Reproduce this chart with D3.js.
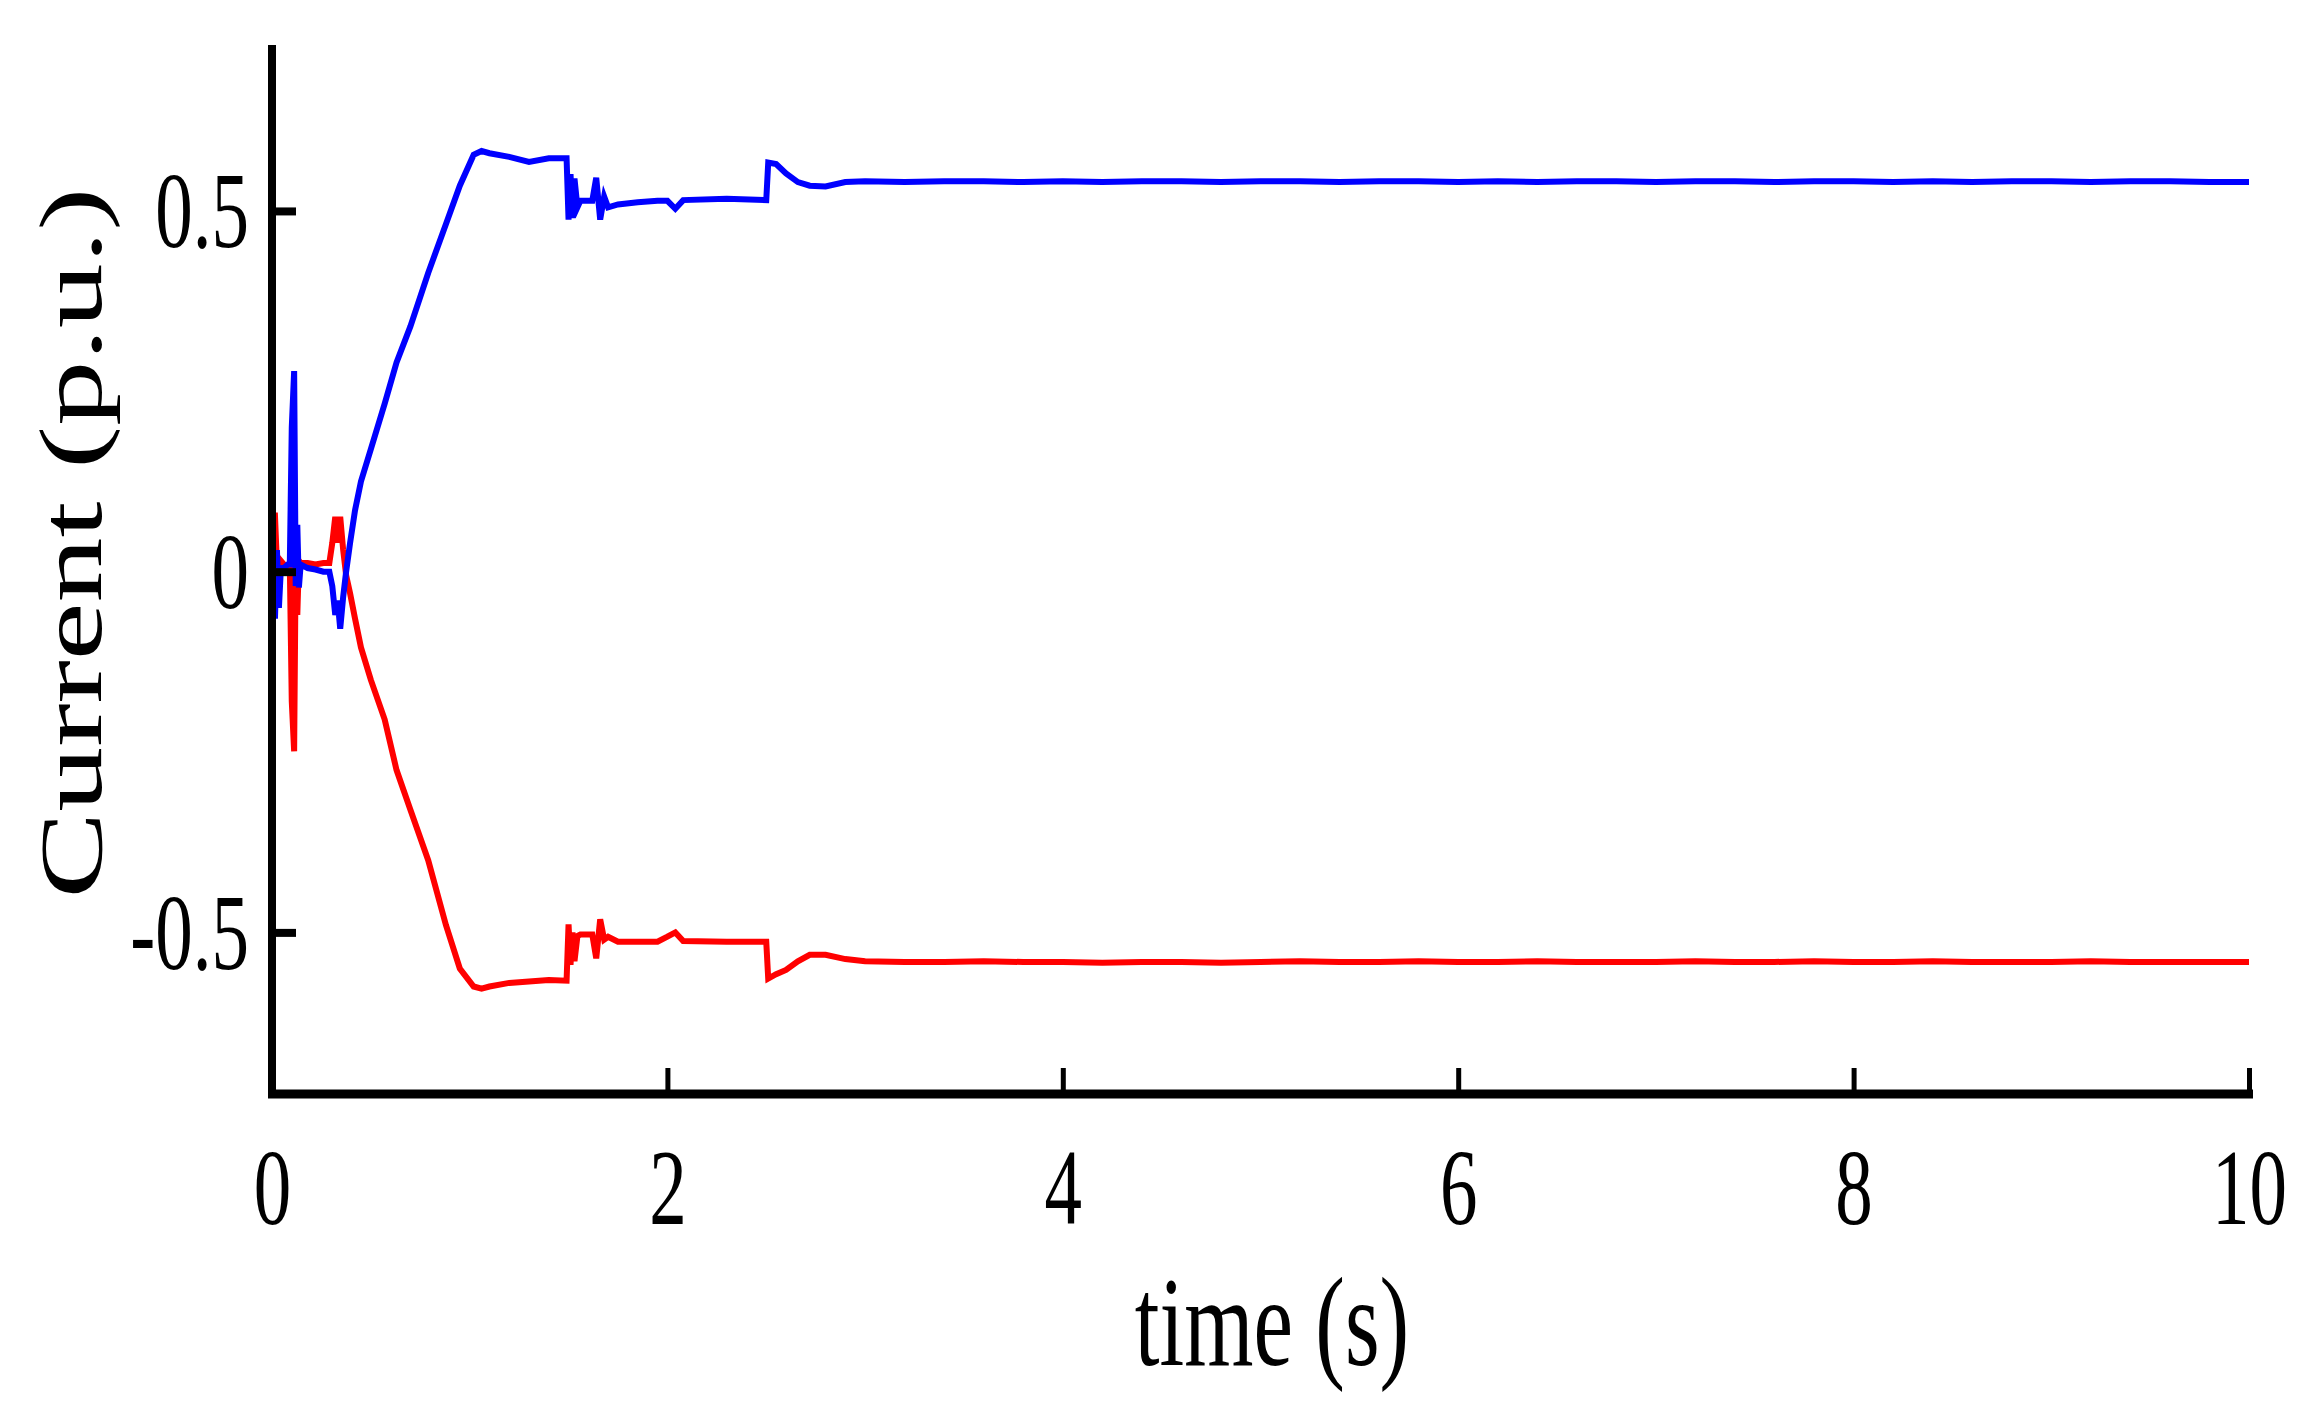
<!DOCTYPE html>
<html>
<head>
<meta charset="utf-8">
<script src="https://cdn.jsdelivr.net/npm/d3@7"></script>
<style>
  html, body { margin: 0; padding: 0; background: #fff; }
  svg { display: block; }
</style>
</head>
<body>
<svg id="chart" width="2316" height="1416"></svg>
<script>
// ---------------- data ----------------
const timeS = [
  0.000, 0.005, 0.015, 0.025, 0.035, 0.045, 0.060, 0.080, 0.090, 0.100,
  0.112, 0.120, 0.128, 0.136, 0.145, 0.180, 0.220, 0.260, 0.290, 0.305,
  0.320, 0.332, 0.345, 0.360, 0.375, 0.395, 0.420, 0.450, 0.500, 0.570,
  0.630, 0.700, 0.790, 0.880, 0.950, 1.020, 1.060, 1.100, 1.200, 1.300,
  1.400, 1.490, 1.500, 1.510, 1.520, 1.530, 1.545, 1.560, 1.620, 1.640,
  1.660, 1.680, 1.700, 1.750, 1.850, 1.950, 2.000, 2.040, 2.080, 2.300,
  2.500, 2.510, 2.550, 2.600, 2.660, 2.720, 2.800, 2.900,
  3.0, 3.2, 3.4, 3.6, 3.8, 4.0, 4.2, 4.4, 4.6, 4.8,
  5.0, 5.2, 5.4, 5.6, 5.8, 6.0, 6.2, 6.4, 6.6, 6.8,
  7.0, 7.2, 7.4, 7.6, 7.8, 8.0, 8.2, 8.4, 8.6, 8.8,
  9.0, 9.2, 9.4, 9.6, 9.8, 10.0
];
const blueCurrent = [
  0.000, 0.035, -0.065, 0.030, -0.050, 0.005, 0.005, 0.010, 0.010, 0.200,
  0.278, -0.020, 0.065, -0.022, 0.010, 0.005, 0.003, 0.000, 0.000, -0.020,
  -0.060, -0.040, -0.079, -0.035, 0.000, 0.040, 0.085, 0.125, 0.170, 0.233,
  0.290, 0.340, 0.414, 0.482, 0.535, 0.578, 0.583, 0.580, 0.575, 0.568,
  0.573, 0.573, 0.488, 0.551, 0.490, 0.545, 0.505, 0.514, 0.514, 0.546,
  0.488, 0.520, 0.505, 0.509, 0.512, 0.514, 0.514, 0.503, 0.515, 0.517,
  0.515, 0.567, 0.565, 0.552, 0.540, 0.535, 0.534, 0.540,
  0.541, 0.540, 0.541, 0.541, 0.540, 0.541, 0.540, 0.541, 0.541, 0.540,
  0.541, 0.541, 0.540, 0.541, 0.541, 0.540, 0.541, 0.540, 0.541, 0.541,
  0.540, 0.541, 0.541, 0.540, 0.541, 0.541, 0.540, 0.541, 0.540, 0.541,
  0.541, 0.540, 0.541, 0.541, 0.540, 0.540
];
const redCurrent = [
  0.000, 0.078, 0.078, 0.010, -0.010, 0.015, 0.010, 0.008, 0.010, -0.180,
  -0.249, 0.020, -0.060, 0.015, 0.012, 0.012, 0.010, 0.012, 0.012, 0.040,
  0.076, 0.040, 0.076, 0.030, -0.005, -0.030, -0.065, -0.105, -0.150, -0.205,
  -0.275, -0.330, -0.400, -0.490, -0.550, -0.575, -0.578, -0.575, -0.570, -0.568,
  -0.566, -0.567, -0.489, -0.545, -0.500, -0.540, -0.505, -0.503, -0.503, -0.536,
  -0.482, -0.510, -0.506, -0.513, -0.513, -0.513, -0.506, -0.500, -0.512, -0.513,
  -0.513, -0.564, -0.558, -0.552, -0.540, -0.531, -0.531, -0.537,
  -0.540, -0.541, -0.541, -0.540, -0.541, -0.541, -0.542, -0.541, -0.541, -0.542,
  -0.541, -0.540, -0.541, -0.541, -0.540, -0.541, -0.541, -0.540, -0.541, -0.541,
  -0.541, -0.540, -0.541, -0.541, -0.540, -0.541, -0.541, -0.540, -0.541, -0.541,
  -0.541, -0.540, -0.541, -0.541, -0.541, -0.541
];
const xTickValues = [0, 2, 4, 6, 8, 10];
const xTickLabels = ["0", "2", "4", "6", "8", "10"];
const yTickValues = [-0.5, 0, 0.5];
const yTickLabels = ["-0.5", "0", "0.5"];
const xDomain = [0, 10];
const yDomain = [-0.724, 0.73];
const xTitle = "time (s)";
const yTitle = "Current (p.u.)";

// ---------------- layout ----------------
const FONT = "'Liberation Serif', 'Times New Roman', Times, serif";
const STRETCH = 1.43;          // glyphs in the reference are stretched vertically
const plotLeft = 272, plotRight = 2249, plotTop = 45, plotBottom = 1094;

const svg = d3.select("#chart");
const x = d3.scaleLinear().domain(xDomain).range([plotLeft, plotRight]);
const y = d3.scaleLinear().domain(yDomain).range([plotBottom, plotTop]);

// ---------------- series ----------------
const pts = (vals) => timeS.map((t, i) => [t, vals[i]]);
const line = d3.line().x(d => x(d[0])).y(d => y(d[1]));

svg.append("path")
  .datum(pts(redCurrent))
  .attr("d", line)
  .attr("fill", "none")
  .attr("stroke", "#ff0000")
  .attr("stroke-width", 6)
  .attr("stroke-linejoin", "miter");

svg.append("path")
  .datum(pts(blueCurrent))
  .attr("d", line)
  .attr("fill", "none")
  .attr("stroke", "#0000ff")
  .attr("stroke-width", 6)
  .attr("stroke-linejoin", "miter");

// ---------------- axes ----------------
const xAxis = d3.axisBottom(x)
  .tickValues(xTickValues)
  .tickFormat((d, i) => xTickLabels[i])
  .tickSizeInner(-26)
  .tickSizeOuter(0);
const gx = svg.append("g").attr("transform", `translate(0,${plotBottom})`).call(xAxis);
gx.select(".domain").attr("stroke", "#000").attr("stroke-width", 9)
  .attr("d", `M${plotLeft - 4},0H${plotRight + 4}`);
gx.selectAll(".tick line").attr("stroke", "#000").attr("stroke-width", 5);
gx.selectAll(".tick text")
  .attr("fill", "#000")
  .attr("font-family", FONT)
  .attr("font-size", 75)
  .attr("y", 38)
  .attr("dy", "0.71em")
  .attr("transform", `scale(1,${STRETCH})`);

const yAxis = d3.axisLeft(y)
  .tickValues(yTickValues)
  .tickFormat((d, i) => yTickLabels[i])
  .tickSizeInner(-24)
  .tickSizeOuter(0);
const gy = svg.append("g").attr("transform", `translate(${plotLeft},0)`).call(yAxis);
gy.select(".domain").attr("stroke", "#000").attr("stroke-width", 8)
  .attr("d", `M0,${plotTop}V${plotBottom + 4}`);
gy.selectAll(".tick line").attr("stroke", "#000").attr("stroke-width", 8);
gy.selectAll(".tick text")
  .attr("fill", "#000")
  .attr("font-family", FONT)
  .attr("font-size", 75)
  .attr("x", -23)
  .attr("dy", "0.335em")
  .attr("transform", `scale(1,${STRETCH})`);

// ---------------- titles ----------------
svg.append("text")
  .attr("transform", `translate(1272,1365) scale(1,${STRETCH})`)
  .attr("text-anchor", "middle")
  .attr("font-family", FONT)
  .attr("font-size", 89)
  .attr("fill", "#000")
  .text(xTitle);

svg.append("text")
  .attr("transform", `translate(101,543) scale(1,1.46) rotate(-90)`)
  .attr("text-anchor", "middle")
  .attr("font-family", FONT)
  .attr("font-size", 89)
  .attr("fill", "#000")
  .text(yTitle);
</script>
</body>
</html>
